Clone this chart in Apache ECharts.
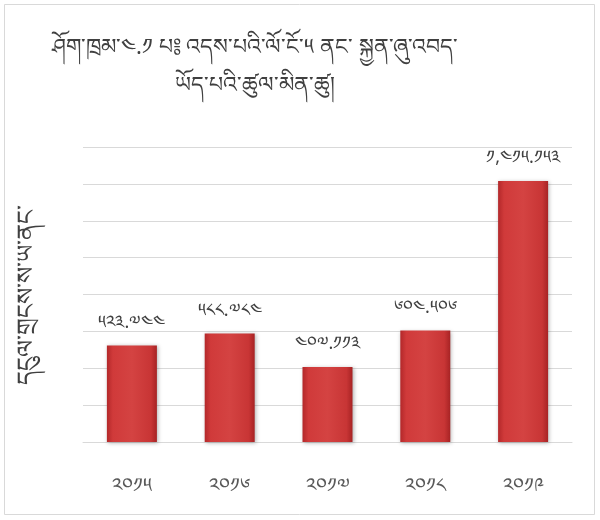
<!DOCTYPE html>
<html>
<head>
<meta charset="utf-8">
<script src="https://cdn.jsdelivr.net/npm/echarts@6/dist/echarts.min.js"></script>
<style>html,body{margin:0;padding:0;background:#fff;}#c{width:600px;height:520px;}</style>
</head>
<body>
<div id="c"></div>
<script>
var titleLines = ["ཤོག་ཁྲམ་༤.༡ པ༔ འདས་པའི་ལོ་ངོ་༥ ནང་ སྐྱན་ཞུ་འབད་", "ཡོད་པའི་ཚུལ་མིན་ཚུ།"];
var yAxisName = "དངུལ་གྲངས་ས་ཡ་ནང་";
var categories = ["༢༠༡༥", "༢༠༡༦", "༢༠༡༧", "༢༠༡༨", "༢༠༡༩"];
var values = [523744, 588784, 407113, 604506, 1415153];
var yMin = 0, yMax = 1600000, yStep = 200000;

var tibDigits = "༠༡༢༣༤༥༦༧༨༩";
function toTib(s){ return s.replace(/[0-9]/g, function(d){ return tibDigits[+d]; }); }
function fmt(v){
  var s = String(v), groups = [];
  while (s.length > 3){ groups.unshift(s.slice(-3)); s = s.slice(0, -3); }
  groups.unshift(s);
  var out = groups[0];
  for (var i = 1; i < groups.length; i++){
    var sep = (groups.length - i === 1) ? "." : ",";
    out += sep + groups[i];
  }
  return toTib(out);
}

var FONT = '"Noto Sans", "DejaVu Sans", sans-serif';
var chart = echarts.init(document.getElementById('c'), null, {renderer: 'canvas'});
chart.setOption({
  backgroundColor: '#fff',
  animation: false,
  title: {
    text: titleLines.join('\n'),
    left: 250, top: 24, textAlign: 'center',
    textStyle: {fontFamily: FONT, fontSize: 22, fontWeight: 'normal', color: '#404040', lineHeight: 38}
  },
  graphic: [{
    type: 'rect', shape: {x: 4.5, y: 4.5, width: 590, height: 510},
    style: {fill: 'none', stroke: '#d9d9d9', lineWidth: 1}, silent: true
  }],
  grid: {left: 83, right: 28, top: 147, bottom: 78},
  xAxis: {
    type: 'category', data: categories,
    axisLine: {show: true, lineStyle: {color: '#d9d9d9'}},
    axisTick: {show: false},
    axisLabel: {fontFamily: FONT, fontSize: 20, color: '#595959', margin: 34}
  },
  yAxis: {
    type: 'value', min: yMin, max: yMax, interval: yStep,
    name: yAxisName, nameLocation: 'middle', nameGap: 44, nameRotate: 90,
    nameTextStyle: {fontFamily: FONT, fontSize: 24, color: '#404040'},
    axisLabel: {show: false}, axisLine: {show: false}, axisTick: {show: false},
    splitLine: {lineStyle: {color: '#d9d9d9', width: 1}}
  },
  series: [{
    type: 'bar', data: values, barWidth: 50,
    itemStyle: {
      color: new echarts.graphic.LinearGradient(0, 0, 1, 0, [
        {offset: 0, color: '#b3282a'}, {offset: 0.12, color: '#d03a3a'},
        {offset: 0.5, color: '#d44342'}, {offset: 0.88, color: '#c83535'},
        {offset: 1, color: '#a72324'}
      ]),
      shadowColor: 'rgba(0,0,0,0.3)', shadowBlur: 4, shadowOffsetX: 1, shadowOffsetY: 1
    },
    label: {
      show: true, position: 'top', distance: 14,
      fontFamily: FONT, fontSize: 18, color: '#404040',
      formatter: function(p){ return fmt(p.value); }
    }
  }]
});
</script>
</body>
</html>
